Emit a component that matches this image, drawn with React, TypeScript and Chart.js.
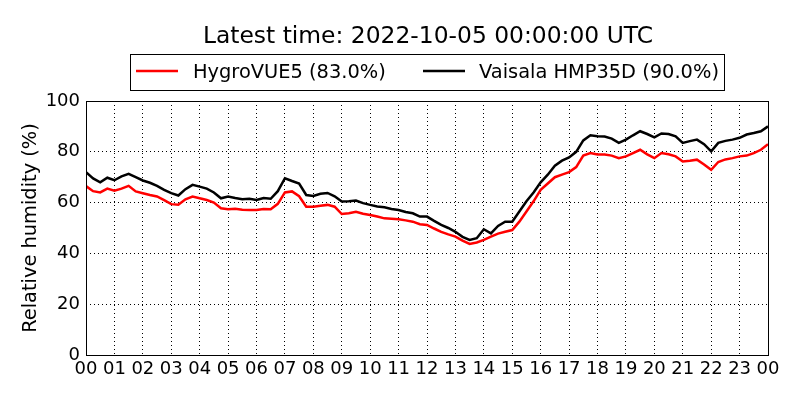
import React, { useEffect, useRef } from 'react'
import { Chart, registerables } from 'chart.js'

Chart.register(...registerables)

// 15-minute samples from 00:00 to 24:00 UTC
const hours = Array.from({ length: 97 }, (_, i) => i / 4)

const hourLabels = [
  '00', '01', '02', '03', '04', '05', '06', '07', '08', '09', '10', '11', '12',
  '13', '14', '15', '16', '17', '18', '19', '20', '21', '22', '23', '00',
]

const hygroVUE5 = [
  66.5, 64.5, 64, 65.5, 64.7, 65.5, 66.6, 64.4, 63.7, 63, 62.4, 61, 59.4, 59.2, 61.3, 62.4,
  61.7, 61, 60, 57.8, 57.4, 57.6, 57.2, 57.1, 57.1, 57.5, 57.4, 59.5, 64, 64.4, 62.5, 58.4,
  58.4, 58.8, 59.1, 58.4, 55.5, 55.8, 56.4, 55.6, 55.1, 54.5, 53.8, 53.6, 53.4, 53, 52.5, 51.5,
  51.2, 49.8, 48.5, 47.5, 46.6, 45, 43.7, 44.3, 45.3, 46.6, 47.8, 48.5, 49.2, 52.5, 56.5, 60.5,
  65, 67.5, 70, 71, 72, 74, 78.5, 79.5, 78.9, 78.9, 78.5, 77.5, 78.2, 79.5, 80.8, 79,
  77.5, 79.5, 79, 78.2, 76.2, 76.5, 76.9, 75, 72.9, 76, 77, 77.5, 78.2, 78.5, 79.5, 80.8,
  83,
]

const vaisalaHMP35D = [
  72, 69.5, 68, 69.8, 68.8, 70.3, 71.3, 70, 68.7, 67.8, 66.6, 65, 63.7, 62.8, 65.3, 67,
  66.3, 65.5, 64, 61.7, 62.4, 61.8, 61.3, 61.5, 61, 61.8, 61.5, 64.5, 69.6, 68.5, 67.5, 63,
  62.6, 63.5, 63.8, 62.5, 60.4, 60.5, 60.8, 59.8, 59.1, 58.5, 58.2, 57.5, 57.1, 56.3, 55.8, 54.5,
  54.5, 52.8, 51.2, 50, 48.5, 46.5, 45.3, 46, 49.5, 47.9, 50.8, 52.5, 52.5, 56.5, 60.5, 64,
  68, 71, 74.5, 76.5, 77.8, 80, 84.5, 86.5, 86.1, 86, 85.2, 83.5, 84.8, 86.5, 88.1, 87,
  85.7, 87.2, 87, 86.1, 83.5, 84.2, 84.8, 83, 80.2, 83.5, 84.3, 84.8, 85.5, 86.8, 87.4, 88.1,
  90,
]

const titleText = 'Latest time: 2022-10-05 00:00:00 UTC'
const legendLabels = ['HygroVUE5 (83.0%)', 'Vaisala HMP35D (90.0%)']
const FONT = 'DejaVu Sans'

// title, boxed legend and plot frame, drawn like the matplotlib original
const decorations = {
  id: 'decorations',
  afterDraw(chart: Chart) {
    const { ctx, chartArea } = chart
    ctx.save()
    ctx.setLineDash([])
    ctx.strokeStyle = '#000'
    ctx.lineWidth = 1
    ctx.strokeRect(chartArea.left + 0.5, chartArea.top + 0.5, chartArea.right - chartArea.left, chartArea.bottom - chartArea.top)

    ctx.fillStyle = '#000'
    ctx.font = `23.4px "${FONT}"`
    ctx.textAlign = 'center'
    ctx.textBaseline = 'alphabetic'
    ctx.fillText(titleText, 428, 43)

    ctx.strokeRect(130.5, 54.5, 594, 36)
    ctx.font = `19.4px "${FONT}"`
    ctx.textAlign = 'left'
    ctx.lineWidth = 2.5
    ctx.strokeStyle = '#ff0000'
    ctx.beginPath()
    ctx.moveTo(136, 71)
    ctx.lineTo(178, 71)
    ctx.stroke()
    ctx.fillText(legendLabels[0], 193, 77.5)
    ctx.strokeStyle = '#000'
    ctx.beginPath()
    ctx.moveTo(423, 71)
    ctx.lineTo(465, 71)
    ctx.stroke()
    ctx.fillText(legendLabels[1], 479, 77.5)
    ctx.restore()
  },
}

function HumidityChart() {
  const ref = useRef<HTMLCanvasElement>(null)

  useEffect(() => {
    const canvas = ref.current
    if (!canvas) {
      return
    }

    const chart = new Chart(canvas, {
      type: 'line',
      data: {
        datasets: [
          {
            label: legendLabels[0],
            data: hours.map((h, i) => ({ x: h, y: hygroVUE5[i] })),
            borderColor: '#ff0000',
            borderWidth: 2.5,
            pointRadius: 0,
            order: 2,
          },
          {
            label: legendLabels[1],
            data: hours.map((h, i) => ({ x: h, y: vaisalaHMP35D[i] })),
            borderColor: '#000000',
            borderWidth: 2.5,
            pointRadius: 0,
            order: 1,
          },
        ],
      },
      options: {
        animation: false,
        responsive: false,
        layout: { padding: { top: 101, right: 32, left: 0, bottom: 0 } },
        plugins: {
          legend: { display: false },
          title: { display: false },
          tooltip: { enabled: false },
        },
        scales: {
          x: {
            type: 'linear',
            min: 0,
            max: 24,
            afterFit: (scale) => {
              scale.height = 45
            },
            ticks: {
              stepSize: 1,
              autoSkip: false,
              maxRotation: 0,
              padding: 4,
              color: '#000',
              font: { family: FONT, size: 18 },
              callback: (v) => hourLabels[Number(v)],
            },
            grid: { color: '#000', lineWidth: 1, drawTicks: false },
            border: { display: false, dash: [1, 3] },
          },
          y: {
            min: 0,
            max: 100,
            afterFit: (scale) => {
              scale.width = 86
            },
            ticks: {
              stepSize: 20,
              padding: 6,
              color: '#000',
              font: { family: FONT, size: 18 },
            },
            grid: { color: '#000', lineWidth: 1, drawTicks: false },
            border: { display: false, dash: [1, 3] },
            title: {
              display: true,
              text: 'Relative humidity (%)',
              color: '#000',
              font: { family: FONT, size: 19.4 },
              padding: { top: 19, bottom: 0 },
            },
          },
        },
      },
      plugins: [decorations],
    })

    return () => {
      chart.destroy()
    }
  }, [])

  return (
    <div style={{ position: 'fixed', left: 0, top: 0, width: 800, height: 400, background: '#fff' }}>
      <canvas ref={ref} width={800} height={400}></canvas>
    </div>
  )
}

export default function App() {
  return <HumidityChart />
}
